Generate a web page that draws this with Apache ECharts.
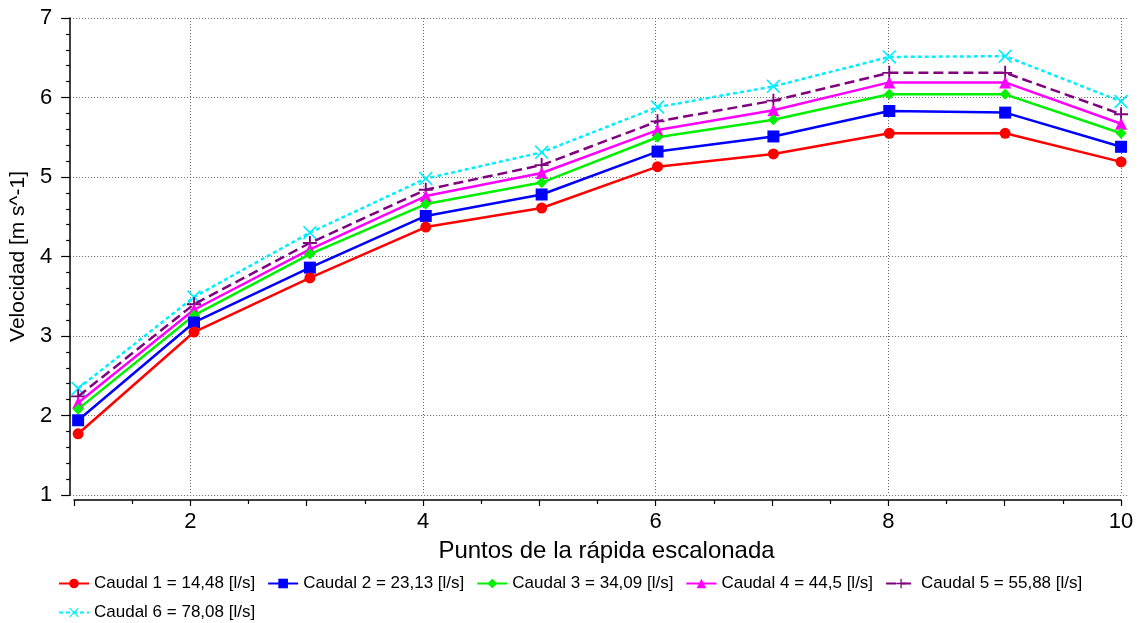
<!DOCTYPE html>
<html>
<head>
<meta charset="utf-8">
<script src="https://cdn.jsdelivr.net/npm/echarts@6/dist/echarts.min.js"></script>
<style>
  html, body { margin: 0; padding: 0; background: #fff; }
  #chart { width: 1137px; height: 623px; }
</style>
</head>
<body>
<div id="chart"></div>
<script>
// Velocity measured at each point of the stepped chute, one line per discharge
const puntos = [1, 2, 3, 4, 5, 6, 7, 8, 9, 10];
const caudal1 = [1.77, 3.05, 3.73, 4.37, 4.61, 5.13, 5.29, 5.55, 5.55, 5.19];
const caudal2 = [1.94, 3.17, 3.86, 4.51, 4.78, 5.32, 5.51, 5.83, 5.81, 5.38];
const caudal3 = [2.08, 3.26, 4.03, 4.66, 4.93, 5.50, 5.72, 6.04, 6.04, 5.55];
const caudal4 = [2.16, 3.33, 4.09, 4.76, 5.05, 5.59, 5.84, 6.19, 6.19, 5.67];
const caudal5 = [2.24, 3.40, 4.17, 4.84, 5.15, 5.70, 5.96, 6.31, 6.31, 5.79];
const caudal6 = [2.34, 3.49, 4.30, 4.98, 5.31, 5.88, 6.14, 6.51, 6.52, 5.95];
const nombres = [
  'Caudal 1 = 14,48 [l/s]',
  'Caudal 2 = 23,13 [l/s]',
  'Caudal 3 = 34,09 [l/s]',
  'Caudal 4 = 44,5 [l/s]',
  'Caudal 5 = 55,88 [l/s]',
  'Caudal 6 = 78,08 [l/s]'
];
const yTicks = { min: 1, max: 7, step: 1 };
const xTicks = { min: 1, max: 10, step: 1 };

const FONT = '"Liberation Sans", Arial, sans-serif';
const PLUS = 'path://M5.2,0 L6.8,0 L6.8,5.2 L12,5.2 L12,6.8 L6.8,6.8 L6.8,12 L5.2,12 L5.2,6.8 L0,6.8 L0,5.2 L5.2,5.2 Z';
const CROSS = 'path://M0,1 L1,0 L6,5 L11,0 L12,1 L7,6 L12,11 L11,12 L6,7 L1,12 L0,11 L5,6 Z';

const estilos = [
  { color: '#ff0000', symbol: 'circle', size: 11, type: 'solid' },
  { color: '#0000ff', symbol: 'rect', size: 12, type: 'solid' },
  { color: '#00f000', symbol: 'diamond', size: 11, type: 'solid' },
  { color: '#ff00ff', symbol: 'triangle', size: 12, type: 'solid' },
  { color: '#800080', symbol: PLUS, size: 14, type: [10, 5] },
  { color: '#00eeff', symbol: CROSS, size: 14, type: [4, 3] }
];
const valores = [caudal1, caudal2, caudal3, caudal4, caudal5, caudal6];

const series = valores.map((vals, k) => ({
  name: nombres[k],
  type: 'line',
  xAxisIndex: 0,
  yAxisIndex: 0,
  data: puntos.map((p, i) => [p, vals[i]]),
  symbol: estilos[k].symbol,
  symbolSize: estilos[k].size,
  showAllSymbol: true,
  color: estilos[k].color,
  lineStyle: { width: 2.5, color: estilos[k].color, type: estilos[k].type },
  itemStyle: { color: estilos[k].color },
  z: 10 - k
}));

const legendBase = {
  itemWidth: 30, itemHeight: 12, itemGap: 12,
  textStyle: { fontSize: 17, color: '#000', fontFamily: FONT }
};

const chart = echarts.init(document.getElementById('chart'), null, { renderer: 'canvas' });
chart.setOption({
  animation: false,
  backgroundColor: '#ffffff',
  textStyle: { fontFamily: FONT, color: '#000' },
  grid: [
    { left: 66, right: 9, top: 18, bottom: 128 },
    { left: 74, right: 16, top: 18, bottom: 128 }
  ],
  xAxis: [
    {
      gridIndex: 0, type: 'value', min: 0.931, max: 10.06, show: false
    },
    {
      gridIndex: 1, type: 'value',
      min: xTicks.min, max: xTicks.max, interval: xTicks.step,
      offset: 5,
      name: 'Puntos de la rápida escalonada',
      nameLocation: 'middle', nameGap: 39,
      nameTextStyle: { fontSize: 24, color: '#000', fontFamily: FONT, padding: [0, 0, 0, 18] },
      axisLine: { show: true, onZero: false, lineStyle: { color: '#000', width: 1.5 } },
      axisTick: { show: true, length: 6, lineStyle: { color: '#000', width: 1.2 } },
      minorTick: { show: true, splitNumber: 2, length: 4, lineStyle: { color: '#000', width: 1.2 } },
      axisLabel: {
        fontSize: 22, color: '#000', fontFamily: FONT, margin: 11,
        formatter: v => (v % 2 === 0 ? String(v) : '')
      },
      splitLine: {
        show: true,
        lineStyle: { type: [1, 2], color: ['rgba(0,0,0,0)', '#666'], width: 1 }
      }
    }
  ],
  yAxis: [
    {
      gridIndex: 0, type: 'value',
      min: yTicks.min, max: yTicks.max, interval: yTicks.step,
      name: 'Velocidad [m s^-1]',
      nameLocation: 'middle', nameGap: 32,
      nameTextStyle: { fontSize: 21, color: '#000', fontFamily: FONT },
      axisLine: { show: true, lineStyle: { color: '#000', width: 1.5 } },
      axisTick: { show: true, length: 9, lineStyle: { color: '#000', width: 1.2 } },
      minorTick: { show: true, splitNumber: 5, length: 4, lineStyle: { color: '#000', width: 1.2 } },
      axisLabel: { fontSize: 22, color: '#000', fontFamily: FONT, margin: 18 },
      splitLine: { show: true, lineStyle: { type: [1, 2], color: '#666', width: 1 } }
    },
    {
      gridIndex: 1, type: 'value', min: yTicks.min, max: yTicks.max, show: false
    }
  ],
  legend: [
    Object.assign({ data: nombres.slice(0, 5), left: 53, top: 570 }, legendBase),
    Object.assign({ data: nombres.slice(5), left: 53, top: 599 }, legendBase)
  ],
  series: series
});
</script>
</body>
</html>
